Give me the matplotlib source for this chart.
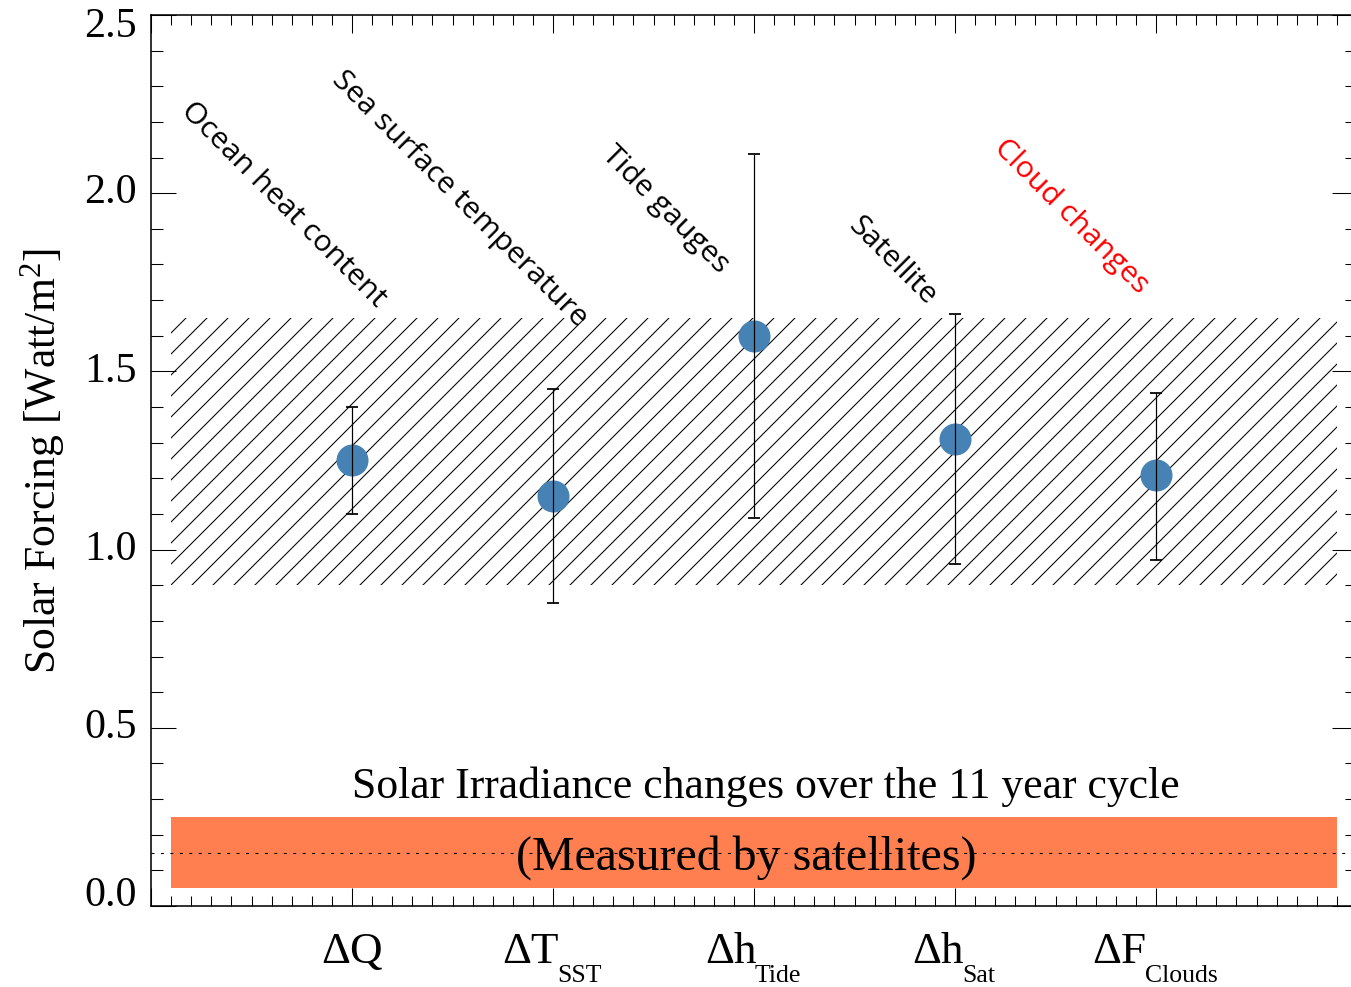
import matplotlib.pyplot as plt
from matplotlib.ticker import MultipleLocator, NullFormatter

plt.rcParams['font.family'] = ['Liberation Serif', 'DejaVu Serif']
plt.rcParams['mathtext.fontset'] = 'custom'
plt.rcParams['mathtext.rm'] = 'Liberation Serif'
plt.rcParams['mathtext.it'] = 'Liberation Serif:italic'
plt.rcParams['hatch.linewidth'] = 0.6
plt.rcParams['lines.scale_dashes'] = False

# solar forcing estimates and their error limits
xpos = [1, 2, 3, 4, 5]
forcing = [1.25, 1.15, 1.60, 1.31, 1.21]
err_lo = [1.10, 0.85, 1.09, 0.96, 0.97]
err_hi = [1.40, 1.45, 2.11, 1.66, 1.44]
lab_main = ['ΔQ', 'ΔT', 'Δh', 'Δh', 'ΔF']
lab_sub = ['', 'SST', 'Tide', 'Sat', 'Clouds']

methods = ['Ocean heat content', 'Sea surface temperature', 'Tide gauges',
           'Satellite', 'Cloud changes']
method_x = [0.657, 1.537, 2.557, 3.69, 4.577]
method_y = [1.967, 1.984, 1.953, 1.81, 1.933]
method_col = ['black', 'black', 'black', 'black', 'red']

band_x = [0.1, 5.9]
hatch_y = [0.9, 1.65]          # range of the combined estimate
irr_y = [0.05, 0.25]           # TSI change over the cycle
irr_mid = 0.15
yticks = [0.0, 0.5, 1.0, 1.5, 2.0, 2.5]

dpi = 126
fig = plt.figure(figsize=(1351 / dpi, 987 / dpi), dpi=dpi)
ax = fig.add_axes([151 / 1351, 81 / 987, 1206 / 1351, 891 / 987])
ax.set_xlim(0, 6)
ax.set_ylim(0, 2.5)

ax.fill_between(band_x, hatch_y[0], hatch_y[1], facecolor='none',
                edgecolor='black', hatch='//', linewidth=0, zorder=1)
ax.fill_between(band_x, irr_y[0], irr_y[1], color='#FF7F50', lw=0, zorder=1)
ax.axhline(irr_mid, color='black', lw=0.6, ls=(0, (1.7, 3.7)), zorder=2)

ax.plot(xpos, forcing, 'o', ms=18.3, color='#4682B4', mec='none', zorder=3)
yerr = [[f - lo for f, lo in zip(forcing, err_lo)],
        [hi - f for f, hi in zip(forcing, err_hi)]]
ax.errorbar(xpos, forcing, yerr=yerr, fmt='none', ecolor='black',
            elinewidth=0.7, capsize=3.4, capthick=1.0, zorder=4)

for s, x, y, c in zip(methods, method_x, method_y, method_col):
    ax.text(x, y, s, rotation=-45, ha='center', va='center',
            family=['Open Sans', 'DejaVu Sans'], fontsize=17.3, color=c)

ax.text(3.06, 0.334, 'Solar Irradiance changes over the 11 year cycle',
        ha='center', va='center', fontsize=25)
ax.text(2.96, 0.136, '(Measured by satellites)',
        ha='center', va='center', fontsize=27.4, zorder=5)

# axes, ticks
for sp in ax.spines.values():
    sp.set_linewidth(0.9)
ax.xaxis.set_major_locator(MultipleLocator(1))
ax.xaxis.set_minor_locator(MultipleLocator(0.1))
ax.yaxis.set_major_locator(MultipleLocator(0.5))
ax.yaxis.set_minor_locator(MultipleLocator(0.1))
ax.xaxis.set_major_formatter(NullFormatter())
ax.yaxis.set_major_formatter(NullFormatter())
ax.tick_params(which='both', direction='in', top=True, right=True, width=0.6)
ax.tick_params(axis='x', which='major', length=10.3)
ax.tick_params(axis='x', which='minor', length=5.7)
ax.tick_params(axis='y', which='major', length=14.3)
ax.tick_params(axis='y', which='minor', length=6.9)

ytr = ax.get_yaxis_transform()
for i, v in enumerate(yticks):
    va = 'center'
    dy = 0
    if i == 0:
        va, dy = 'baseline', 0
    elif i == len(yticks) - 1:
        va, dy = 'center', -12
    ax.annotate(f'{v:.1f}', xy=(0, v), xycoords=ytr, xytext=(-14, dy),
                textcoords='offset pixels', ha='right', va=va, fontsize=24)

ax.text(-0.09, 0.5, 'Solar Forcing [Watt/m$^2$]', rotation=90,
        ha='center', va='center', fontsize=25, transform=ax.transAxes)

# x labels: main symbol plus lowered subscript, centred as a whole
xtr = ax.get_xaxis_transform()
pairs = []
for x, m, s in zip(xpos, lab_main, lab_sub):
    tm = ax.annotate(m, xy=(x, 0), xycoords=xtr, xytext=(0, -57),
                     textcoords='offset pixels', ha='left', va='baseline',
                     fontsize=25.7)
    ts = ax.annotate(s, xy=(x, 0), xycoords=xtr, xytext=(0, -76),
                     textcoords='offset pixels', ha='left', va='baseline',
                     fontsize=14.7)
    pairs.append((tm, ts))

fig.canvas.draw()
r = fig.canvas.get_renderer()
for tm, ts in pairs:
    wm = tm.get_window_extent(r).width
    ws = ts.get_window_extent(r).width if ts.get_text() else 0
    gap = 0
    total = wm + gap + ws
    tm.xyann = (-total / 2, -57)
    ts.xyann = (-total / 2 + wm + gap - 2, -76)

fig.savefig('out.png', dpi=dpi)
